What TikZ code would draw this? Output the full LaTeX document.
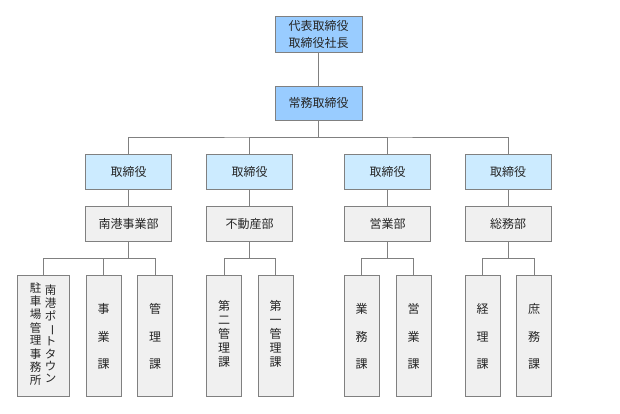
\documentclass[tikz,border=0pt]{standalone}
\usepackage{fontspec}
\usepackage{graphicx}
\newfontfamily\jp{Noto Sans CJK JP}
\definecolor{topblue}{HTML}{99CCFF}
\definecolor{lightblue}{HTML}{CCEBFF}
\definecolor{boxgray}{HTML}{F0F0F0}
\definecolor{edgegray}{HTML}{808080}
\newcommand\vcol[1]{\begin{tabular}{@{}c@{}}#1\end{tabular}}
\newcommand\vbar{\rotatebox[origin=c]{-90}{ー}}
\tikzset{
  orgbox/.style={draw=edgegray, line width=0.9pt, inner sep=0pt, align=center,
    font=\jp\fontsize{12}{17}\selectfont, text=black!85},
  exec/.style={orgbox, fill=topblue, minimum width=87pt},
  director/.style={orgbox, fill=lightblue, minimum width=86pt, minimum height=35pt},
  dept/.style={orgbox, fill=boxgray, minimum width=86pt, minimum height=35pt},
  section/.style={orgbox, fill=boxgray, minimum width=35pt, minimum height=121pt},
  link/.style={draw=edgegray, line width=0.9pt},
}
\begin{document}
\begin{tikzpicture}[x=1pt, y=-1pt]
\useasboundingbox (0,0) rectangle (620,413);
\node[exec, minimum height=36pt] (pres) at (318.5,34) {代表取締役\\取締役社長};
\node[exec, minimum height=34pt] (jomu) at (318.5,103) {常務取締役};
\coordinate (bus) at (318.5,137);
\foreach \n/\x in {a/128.5, b/249.5, c/387.5, d/508} {
  \node[director] (r3\n) at (\x,171.5) {取締役};
}
\node[dept] (r4a) at (128.5,223.5) {南港事業部};
\node[dept] (r4b) at (249.5,223.5) {不動産部};
\node[dept] (r4c) at (387.5,223.5) {営業部};
\node[dept] (r4d) at (508,223.5) {総務部};
\coordinate (ca) at (128.5,258.5);
\coordinate (cb) at (249.5,258.5);
\coordinate (cc) at (387.5,258.5);
\coordinate (cd) at (508,258.5);
% third level sections
\node[section, minimum width=52pt] (s1) at (43,335.5)
  {\fontsize{11.5}{12}\selectfont\vcol{駐\\車\\場\\管\\理\\事\\務\\所}\hspace{3.5pt}\vcol{南\\港\\ポ\\\vbar\\ト\\タ\\ウ\\ン}};
\node[section] (s2) at (103.5,335.5) {\fontsize{12}{27.5}\selectfont\vcol{事\\業\\課}};
\node[section] (s3) at (155,335.5) {\fontsize{12}{27.5}\selectfont\vcol{管\\理\\課}};
\node[section] (s4) at (224,335.5) {\fontsize{12}{14}\selectfont\vcol{第\\二\\管\\理\\課}};
\node[section] (s5) at (275.5,335.5) {\fontsize{12}{14}\selectfont\vcol{第\\一\\管\\理\\課}};
\node[section] (s6) at (361.5,335.5) {\fontsize{12}{27.5}\selectfont\vcol{業\\務\\課}};
\node[section] (s7) at (413.5,335.5) {\fontsize{12}{27.5}\selectfont\vcol{営\\業\\課}};
\node[section] (s8) at (482.5,335.5) {\fontsize{12}{27.5}\selectfont\vcol{経\\理\\課}};
\node[section] (s9) at (534,335.5) {\fontsize{12}{27.5}\selectfont\vcol{庶\\務\\課}};
% connectors
\draw[link] (pres) -- (jomu);
\draw[link] (jomu) -- (bus);
\draw[link] (r3a.north) |- (bus) -| (r3d.north);
\draw[link] (r3b.north) |- (bus);
\draw[link] (r3c.north) |- (bus);
\foreach \n in {a,b,c,d} { \draw[link] (r3\n) -- (r4\n); }
\draw[link] (r4a) -- (ca);
\draw[link] (s1.north) |- (ca) -| (s3.north);
\draw[link] (s2.north) |- (ca);
\draw[link] (r4b) -- (cb);
\draw[link] (s4.north) |- (cb) -| (s5.north);
\draw[link] (r4c) -- (cc);
\draw[link] (s6.north) |- (cc) -| (s7.north);
\draw[link] (r4d) -- (cd);
\draw[link] (s8.north) |- (cd) -| (s9.north);
\end{tikzpicture}
\end{document}
